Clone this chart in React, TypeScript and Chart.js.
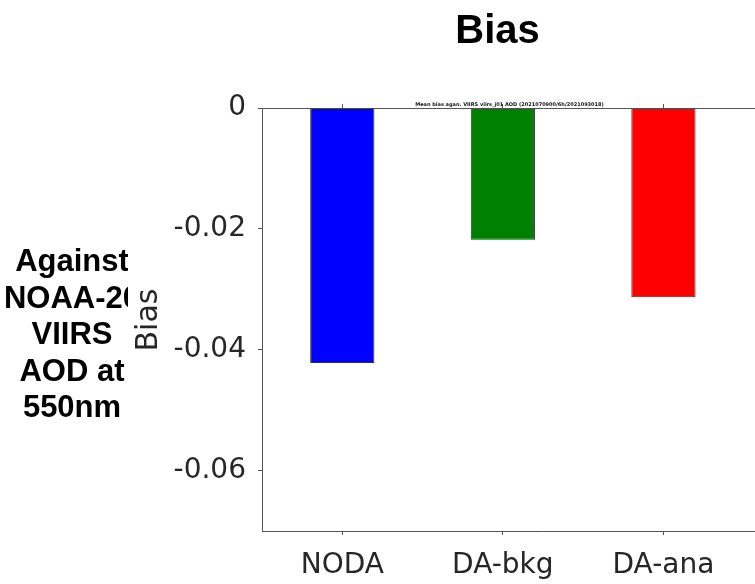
import React, { useEffect, useRef } from "react";
import { Chart, registerables } from "chart.js";

Chart.register(...registerables);

const categories = ["NODA", "DA-bkg", "DA-ana"];
const biasValues = [-0.0422, -0.0218, -0.0313];
const barColors = ["#0000ff", "#008000", "#ff0000"];
const yTickValues = [0, -0.02, -0.04, -0.06];
const yTickLabels = ["0", "-0.02", "-0.04", "-0.06"];
const titleText = "Bias";
const subTitleText = "Mean bias agan. VIIRS viirs_j01 AOD (2021070900/6h/2021093018)";
const yAxisTitle = "Bias";
const sideLines = ["Against", "NOAA-20", "VIIRS", "AOD at", "550nm"];

const AXIS_COLOR = "#555555";
const TEXT_COLOR = "#262626";

const textPlugin = {
  id: "customTexts",
  afterDraw(chart: any) {
    const ctx = chart.ctx as CanvasRenderingContext2D;
    ctx.save();
    ctx.fillStyle = "#000000";
    ctx.textAlign = "center";
    ctx.textBaseline = "alphabetic";
    ctx.font = "bold 40px 'Liberation Sans', Arial, sans-serif";
    ctx.fillText(titleText, 497.5, 43);

    ctx.font = "bold 5px 'DejaVu Sans', sans-serif";
    ctx.fillStyle = "#111111";
    ctx.fillText(subTitleText, 509.5, 106);

    ctx.fillStyle = TEXT_COLOR;
    ctx.font = "30px 'DejaVu Sans', sans-serif";
    ctx.save();
    ctx.translate(157, 320);
    ctx.rotate(-Math.PI / 2);
    ctx.fillText(yAxisTitle, 0, 0);
    ctx.restore();

    ctx.save();
    ctx.beginPath();
    ctx.rect(0, 0, 128, 584);
    ctx.clip();
    ctx.fillStyle = "#000000";
    ctx.font = "bold 31px 'Liberation Sans', Arial, sans-serif";
    sideLines.forEach((line, i) => {
      ctx.fillText(line, 72, 271 + i * 36.5);
    });
    ctx.restore();
    ctx.restore();
  },
};

export default function App() {
  const canvasRef = useRef<HTMLCanvasElement | null>(null);

  useEffect(() => {
    if (!canvasRef.current) return;
    const xPositions = categories.map((_, i) => i);
    const xAxisBase = {
      type: "linear",
      min: -0.5,
      max: 3.0,
      offset: false,
      afterBuildTicks: (scale: any) => {
        scale.ticks = xPositions.map((v) => ({ value: v }));
      },
      grid: {
        offset: false,
        drawOnChartArea: false,
        drawTicks: true,
        tickLength: 4,
        color: AXIS_COLOR,
      },
      border: { display: true, color: AXIS_COLOR, width: 1 },
    };
    const chart = new Chart(canvasRef.current, {
      type: "bar",
      data: {
        datasets: [
          {
            data: biasValues.map((v, i) => ({ x: i, y: v })),
            backgroundColor: barColors,
            borderColor: "#333333",
            borderWidth: 1,
            barPercentage: 0.4,
            categoryPercentage: 1.0,
          },
        ],
      },
      options: {
        responsive: false,
        animation: false,
        layout: { padding: 0 },
        plugins: {
          legend: { display: false },
          tooltip: { enabled: false },
          title: { display: false },
        },
        scales: {
          x: {
            ...xAxisBase,
            position: "bottom",
            afterFit: (scale: any) => {
              scale.height = 53;
            },
            ticks: {
              callback: (value: any) => categories[value as number] ?? "",
              font: { family: "'DejaVu Sans', sans-serif", size: 28 },
              color: TEXT_COLOR,
              padding: 14,
              maxRotation: 0,
              autoSkip: false,
            },
          },
          x2: {
            ...xAxisBase,
            axis: "x",
            position: "top",
            afterFit: (scale: any) => {
              scale.height = 108;
            },
            ticks: { display: false },
          },
          y: {
            type: "linear",
            position: "left",
            min: -0.07,
            max: 0,
            afterBuildTicks: (scale: any) => {
              scale.ticks = yTickValues.map((v) => ({ value: v }));
            },
            afterFit: (scale: any) => {
              scale.width = 262;
            },
            ticks: {
              callback: (value: any) => {
                const idx = yTickValues.findIndex((t) => Math.abs(t - value) < 1e-9);
                return idx >= 0 ? yTickLabels[idx] : "";
              },
              font: { family: "'DejaVu Sans', sans-serif", size: 28 },
              color: TEXT_COLOR,
              padding: 12,
            },
            grid: {
              drawOnChartArea: false,
              drawTicks: true,
              tickLength: 4,
              color: AXIS_COLOR,
            },
            border: { display: true, color: AXIS_COLOR, width: 1 },
          },
        },
      },
      plugins: [textPlugin],
    } as any);
    return () => chart.destroy();
  }, []);

  return (
    <div
      style={{
        position: "fixed",
        left: 0,
        top: 0,
        width: 755,
        height: 584,
        overflow: "hidden",
        background: "#ffffff",
      }}
    >
      <canvas ref={canvasRef} width={824} height={584} style={{ display: "block" }} />
    </div>
  );
}
